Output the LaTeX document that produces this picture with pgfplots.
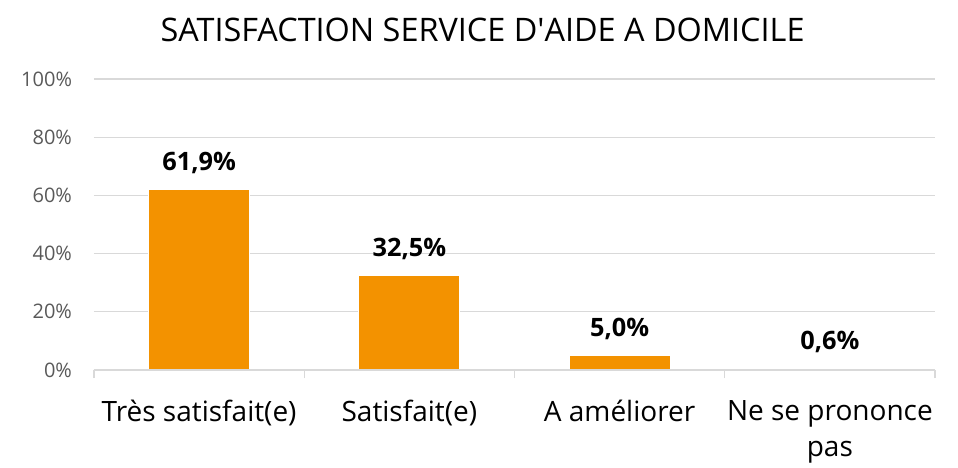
\documentclass[border=0pt]{standalone}
\usepackage{fontspec}
\setmainfont{Open Sans}
\usepackage{pgfplots}
\pgfplotsset{compat=1.18}
\definecolor{barorange}{HTML}{F39200}
\definecolor{gridgray}{HTML}{D9D9D9}
\definecolor{ticktext}{HTML}{595959}
\begin{document}
\begin{tikzpicture}
\begin{axis}[
    scale only axis,
    width=630.75pt, height=218.25pt,
    xmin=-0.5, xmax=3.5,
    ymin=0, ymax=100,
    /pgf/number format/assume math mode=true,
    ytick={0,20,40,60,80,100},
    yticklabels={0\%,20\%,40\%,60\%,80\%,100\%},
    xtick={0,1,2,3},
    xticklabels={Très satisfait(e),Satisfait(e),A améliorer,Ne se prononce\\pas},
    extra x ticks={-0.5,0.5,1.5,2.5,3.5},
    extra x tick labels={},
    extra x tick style={major tick length=6pt, tick align=outside,
        tick style={draw=gridgray, line width=1pt}},
    major tick length=0pt,
    axis x line*=bottom,
    axis y line*=left,
    y axis line style={draw=none},
    x axis line style={draw=gridgray, line width=1pt, -},
    ymajorgrids=true,
    grid style={draw=gridgray, line width=1pt},
    yticklabel style={font=\fontsize{15}{17}\selectfont, text=ticktext, xshift=-13pt},
    xticklabel style={font=\fontsize{21}{27}\selectfont, align=center, yshift=-19pt},
    title={SATISFACTION SERVICE D\textquotesingle AIDE A DOMICILE},
    title style={font=\fontsize{24.3}{28}\selectfont, at={(0.462,1)}, anchor=south, yshift=18pt},
    nodes near coords={\pgfmathprintnumber[fixed,fixed zerofill,precision=1,use comma]{\pgfplotspointmeta}\%},
    nodes near coords style={font=\bfseries\fontsize{19}{23}\selectfont, text=black, yshift=8pt},
    clip=false,
]
\addplot[ybar, bar width=75.75pt, fill=barorange, draw=white, line width=0.8pt] coordinates {
    (0,61.9) (1,32.5) (2,5.0) (3,0.6)
};
% baseline redrawn over the bars' white outline
\draw[gridgray, line width=1pt] (rel axis cs:0,0) -- (rel axis cs:1,0);
\coordinate (o) at (rel axis cs:0,0);
\end{axis}
\pgfresetboundingbox
\path (o) ++(-70.5pt,-73.5pt) rectangle ++(718.5pt,351pt);
\end{tikzpicture}
\end{document}
